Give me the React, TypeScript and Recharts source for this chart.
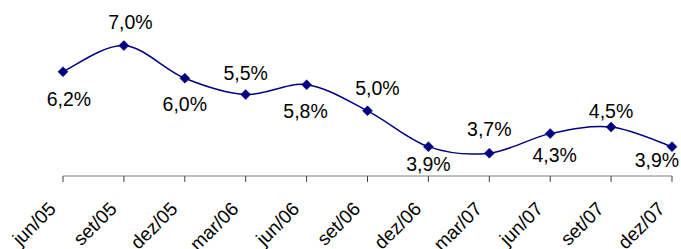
import React from "react";
import { LineChart, Line, XAxis, YAxis } from "recharts";

const categories = ["jun/05", "set/05", "dez/05", "mar/06", "jun/06", "set/06", "dez/06", "mar/07", "jun/07", "set/07", "dez/07"];
const values = [6.2, 7.0, 6.0, 5.5, 5.8, 5.0, 3.9, 3.7, 4.3, 4.5, 3.9];
const valueLabels = ["6,2%", "7,0%", "6,0%", "5,5%", "5,8%", "5,0%", "3,9%", "3,7%", "4,3%", "4,5%", "3,9%"];

const data = categories.map((c, i) => ({ cat: c, v: values[i], lbl: valueLabels[i] }));

// label nudges (dx, baseline dy) relative to the point
const labelNudge: [number, number][] = [
  [6, 34], [6.5, -16.5], [0, 33], [0, -14.5], [-1, 33], [10, -16],
  [0, 24], [0, -17], [4.5, 28], [0, -9], [-15, 20],
];

const smoothCurve = (context: any) => {
  let pts: number[][] = [];
  return {
    areaStart() {},
    areaEnd() {},
    lineStart() { pts = []; },
    point(x: number, y: number) { pts.push([+x, +y]); },
    lineEnd() {
      if (!pts.length) return;
      context.moveTo(pts[0][0], pts[0][1]);
      for (let i = 0; i < pts.length - 1; i++) {
        const p0 = pts[i - 1] || pts[i];
        const p1 = pts[i];
        const p2 = pts[i + 1];
        const p3 = pts[i + 2] || pts[i + 1];
        context.bezierCurveTo(
          p1[0] + (p2[0] - p0[0]) / 6, p1[1] + (p2[1] - p0[1]) / 6,
          p2[0] - (p3[0] - p1[0]) / 6, p2[1] - (p3[1] - p1[1]) / 6,
          p2[0], p2[1]
        );
      }
    },
  };
};

const Diamond = (props: any) => {
  const { cx, cy, index } = props;
  if (cx == null || cy == null) return null;
  const s = 5;
  return (
    <polygon
      key={`d${index}`}
      points={`${cx},${cy - s} ${cx + s},${cy} ${cx},${cy + s} ${cx - s},${cy}`}
      fill="#000080"
      stroke="#000080"
      strokeWidth={0.5}
    />
  );
};

const ValueLabel = (props: any) => {
  const { x, y, index } = props;
  const [dx, dy] = labelNudge[index] || [0, 0];
  return (
    <text
      key={`l${index}`}
      x={x + dx}
      y={y + dy}
      textAnchor="middle"
      fontFamily="'Liberation Sans', Arial, sans-serif"
      fontSize={19.5}
      fill="#000"
    >
      {valueLabels[index]}
    </text>
  );
};

const AxisTick = (props: any) => {
  const { x, y, payload } = props;
  const ax = x - 6;
  const ay = y + 26;
  return (
    <text
      x={ax}
      y={ay}
      textAnchor="end"
      transform={`rotate(-45 ${ax} ${ay})`}
      fontFamily="'Liberation Sans', Arial, sans-serif"
      fontSize={19}
      fill="#000"
    >
      {payload.value}
    </text>
  );
};

export default function App() {
  return (
    <div style={{ position: "absolute", left: 0, top: 0, width: 681, height: 249, background: "#fff" }}>
      <LineChart width={681} height={249} data={data} margin={{ top: 13, right: 9, left: 63, bottom: 13 }}>
        <XAxis
          dataKey="cat"
          height={60}
          interval={0}
          tick={<AxisTick />}
          tickSize={6}
          tickMargin={2}
          axisLine={{ stroke: "#808080", strokeWidth: 1 }}
          tickLine={{ stroke: "#404040", strokeWidth: 1 }}
        />
        <YAxis hide domain={[3, 8]} />
        <Line
          dataKey="v"
          type={smoothCurve as any}
          stroke="#000080"
          strokeWidth={1.5}
          dot={<Diamond />}
          activeDot={false}
          label={<ValueLabel />}
          isAnimationActive={false}
        />
      </LineChart>
    </div>
  );
}
